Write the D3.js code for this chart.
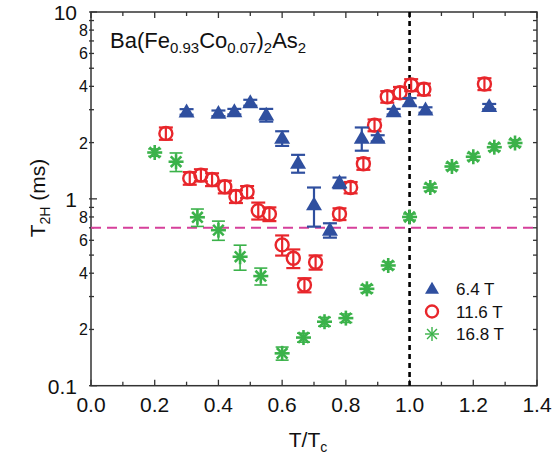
<!DOCTYPE html>
<html>
<head>
<meta charset="utf-8">
<script src="https://cdn.jsdelivr.net/npm/d3@7"></script>
<style>
  html, body { margin: 0; padding: 0; background: #fff; }
  svg { display: block; font-family: "Liberation Sans", Arial, sans-serif; }
</style>
</head>
<body>
<svg id="chart" width="554" height="472"></svg>
<script>
// T2H relaxation time vs reduced temperature, three applied fields
const field64X   = [0.30, 0.40, 0.45, 0.50, 0.55, 0.60, 0.65, 0.70, 0.75, 0.78, 0.85, 0.90, 0.95, 1.00, 1.05, 1.25];
const field64Y   = [2.92, 2.87, 2.93, 3.27, 2.81, 2.11, 1.55, 0.93, 0.68, 1.22, 2.11, 2.11, 2.93, 3.31, 2.99, 3.12];
const field64Err = [0.10, 0.10, 0.10, 0.12, 0.22, 0.19, 0.17, 0.22, 0.06, 0.08, 0.30, 0.08, 0.10, 0.15, 0.10, 0.10];

const field116X   = [0.235, 0.31, 0.345, 0.38, 0.42, 0.455, 0.49, 0.525, 0.56, 0.60, 0.635, 0.67, 0.705, 0.78, 0.815, 0.855, 0.89, 0.93, 0.97, 1.005, 1.045, 1.235];
const field116Y   = [2.24, 1.29, 1.34, 1.27, 1.16, 1.03, 1.09, 0.865, 0.83, 0.567, 0.481, 0.346, 0.458, 0.83, 1.15, 1.54, 2.48, 3.52, 3.70, 4.07, 3.86, 4.12];
const field116Err = [0.17, 0.10, 0.10, 0.10, 0.09, 0.08, 0.08, 0.09, 0.07, 0.07, 0.055, 0.03, 0.04, 0.06, 0.08, 0.11, 0.18, 0.25, 0.27, 0.30, 0.28, 0.30];

const field168X   = [0.20, 0.267, 0.334, 0.40, 0.468, 0.533, 0.60, 0.667, 0.733, 0.80, 0.866, 0.933, 1.00, 1.065, 1.133, 1.20, 1.266, 1.331];
const field168Y   = [1.77, 1.58, 0.797, 0.68, 0.49, 0.386, 0.149, 0.181, 0.220, 0.23, 0.33, 0.44, 0.80, 1.15, 1.49, 1.68, 1.89, 1.99];
const field168Err = [0.08, 0.18, 0.085, 0.08, 0.075, 0.04, 0.012, 0.01, 0.012, 0.012, 0.015, 0.02, 0.03, 0.05, 0.06, 0.07, 0.08, 0.08];

const seriesNames = ["6.4 T", "11.6 T", "16.8 T"];
const xTickLabels = ["0.0", "0.2", "0.4", "0.6", "0.8", "1.0", "1.2", "1.4"];
const yMajorTicks = [0.1, 1, 10];
const yMajorLabels = ["0.1", "1", "10"];
const yMinorLabelled = [0.2, 0.4, 0.6, 0.8, 2, 4, 6, 8];
const thresholdT2 = 0.70;   // horizontal reference level (ms)
const tcRatio = 1.0;        // T = Tc

const svg = d3.select("#chart");
const L = 91, R = 537, T = 12, B = 385.7;
const x = d3.scaleLinear().domain([0, 1.4]).range([L, R]);
const y = d3.scaleLog().domain([0.1, 10]).range([B, T]);

const blue = "#2f4f9f", red = "#e8262b", green = "#3bb24a";
const axisColor = "#333";

// minor y ticks (2..9 in each decade)
const yMinor = [];
for (const d of [0.1, 1]) for (let k = 2; k <= 9; k++) yMinor.push(+(d * k).toFixed(2));

const ticks = svg.append("g").attr("stroke", axisColor).attr("stroke-width", 1.3);
// left/right y ticks
yMinor.forEach(v => {
  ticks.append("line").attr("x1", L - 2).attr("x2", L + 3).attr("y1", y(v)).attr("y2", y(v));
  ticks.append("line").attr("x1", R - 4).attr("x2", R).attr("y1", y(v)).attr("y2", y(v));
});
yMajorTicks.forEach(v => {
  ticks.append("line").attr("x1", L - 2).attr("x2", L + 6).attr("y1", y(v)).attr("y2", y(v));
  ticks.append("line").attr("x1", R - 7).attr("x2", R).attr("y1", y(v)).attr("y2", y(v));
});
// bottom/top x ticks
d3.range(0, 15).forEach(i => {
  const v = i / 10, len = i % 2 === 0 ? 6 : 4;
  ticks.append("line").attr("x1", x(v)).attr("x2", x(v)).attr("y1", B).attr("y2", B - len);
  ticks.append("line").attr("x1", x(v)).attr("x2", x(v)).attr("y1", T).attr("y2", T + len);
});

// frame
svg.append("rect").attr("x", L).attr("y", T).attr("width", R - L).attr("height", B - T)
  .attr("fill", "none").attr("stroke", axisColor).attr("stroke-width", 1.5);

// tick labels
const xl = svg.append("g").attr("font-size", 21).attr("fill", "#111").attr("text-anchor", "middle");
xTickLabels.forEach(s => xl.append("text").attr("x", x(+s)).attr("y", 412).text(s));

const yl = svg.append("g").attr("fill", "#111").attr("text-anchor", "end");
yMajorTicks.forEach((v, i) => yl.append("text").attr("x", 77).attr("y", y(v) + 8)
  .attr("font-size", 21).text(yMajorLabels[i]));
yMinorLabelled.forEach(v => yl.append("text").attr("x", 88).attr("y", y(v) + 6)
  .attr("font-size", 16).text(v < 1 ? String(Math.round(v * 10)) : String(v)));

// axis titles
const xt = svg.append("text").attr("x", 308).attr("y", 447).attr("font-size", 21)
  .attr("text-anchor", "middle").attr("fill", "#111");
xt.append("tspan").text("T/T");
xt.append("tspan").attr("font-size", 14).attr("dy", 5).text("c");

const yt = svg.append("text").attr("transform", "translate(45,198) rotate(-90)")
  .attr("font-size", 21).attr("text-anchor", "middle").attr("fill", "#111");
yt.append("tspan").text("T");
yt.append("tspan").attr("font-size", 14).attr("dy", 5).text("2H");
yt.append("tspan").attr("dy", -5).text(" (ms)");

// compound label
const tl = svg.append("text").attr("x", 110).attr("y", 48).attr("font-size", 22).attr("fill", "#111");
const parts = [["Ba(Fe", 0], ["0.93", 1], ["Co", 0], ["0.07", 1], [")", 0], ["2", 1], ["As", 0], ["2", 1]];
let shifted = false;
parts.forEach(([s, sub]) => {
  const sp = tl.append("tspan").text(s);
  if (sub) { sp.attr("font-size", 15); if (!shifted) { sp.attr("dy", 5); shifted = true; } }
  else if (shifted) { sp.attr("dy", -5); shifted = false; }
});

// reference lines
svg.append("line").attr("x1", L).attr("x2", R).attr("y1", y(thresholdT2)).attr("y2", y(thresholdT2))
  .attr("stroke", "#d6409b").attr("stroke-width", 2).attr("stroke-dasharray", "10,6");
svg.append("line").attr("x1", x(tcRatio)).attr("x2", x(tcRatio)).attr("y1", T).attr("y2", B)
  .attr("stroke", "#000").attr("stroke-width", 2.6).attr("stroke-dasharray", "5,4");

// marker shapes
function triangle(g, cx, cy, s, color) {
  const h = s * 0.87;
  g.append("path").attr("d", `M${cx},${cy - h * 0.6}L${cx + s / 2},${cy + h * 0.4}L${cx - s / 2},${cy + h * 0.4}Z`)
    .attr("fill", color);
}
function circle(g, cx, cy, r, color) {
  g.append("circle").attr("cx", cx).attr("cy", cy).attr("r", r)
    .attr("fill", "none").attr("stroke", color).attr("stroke-width", 2.4);
}
function star(g, cx, cy, r, color, w) {
  for (let k = 0; k < 4; k++) {
    const a = k * Math.PI / 4;
    g.append("line").attr("x1", cx - r * Math.cos(a)).attr("y1", cy - r * Math.sin(a))
      .attr("x2", cx + r * Math.cos(a)).attr("y2", cy + r * Math.sin(a))
      .attr("stroke", color).attr("stroke-width", w);
  }
}
function errorBars(g, xs, ys, es, color, cap, w) {
  xs.forEach((xv, i) => {
    const cx = x(xv), y1 = y(ys[i] + es[i]), y2 = y(Math.max(ys[i] - es[i], 0.101));
    g.append("line").attr("x1", cx).attr("x2", cx).attr("y1", y1).attr("y2", y2).attr("stroke", color).attr("stroke-width", w);
    [y1, y2].forEach(yy => g.append("line").attr("x1", cx - cap).attr("x2", cx + cap)
      .attr("y1", yy).attr("y2", yy).attr("stroke", color).attr("stroke-width", w));
  });
}

const gGreen = svg.append("g");
errorBars(gGreen, field168X, field168Y, field168Err, green, 6.5, 1.6);
field168X.forEach((xv, i) => star(gGreen, x(xv), y(field168Y[i]), 7.5, green, 2.6));

const gRed = svg.append("g");
errorBars(gRed, field116X, field116Y, field116Err, red, 7, 2.2);
field116X.forEach((xv, i) => circle(gRed, x(xv), y(field116Y[i]), 6.5, red));

const gBlue = svg.append("g");
errorBars(gBlue, field64X, field64Y, field64Err, blue, 7, 2.2);
field64X.forEach((xv, i) => triangle(gBlue, x(xv), y(field64Y[i]), 16, blue));

// legend
const lg = svg.append("g");
const lx = 432, ly = [289, 311.5, 334];
triangle(lg, lx, ly[0], 14, blue);
circle(lg, lx, ly[1], 6, red);
star(lg, lx, ly[2], 7, green, 1.4);
seriesNames.forEach((s, i) => lg.append("text").attr("x", 456).attr("y", ly[i] + 6)
  .attr("font-size", 17).attr("fill", "#111").text(s));
</script>
</body>
</html>
